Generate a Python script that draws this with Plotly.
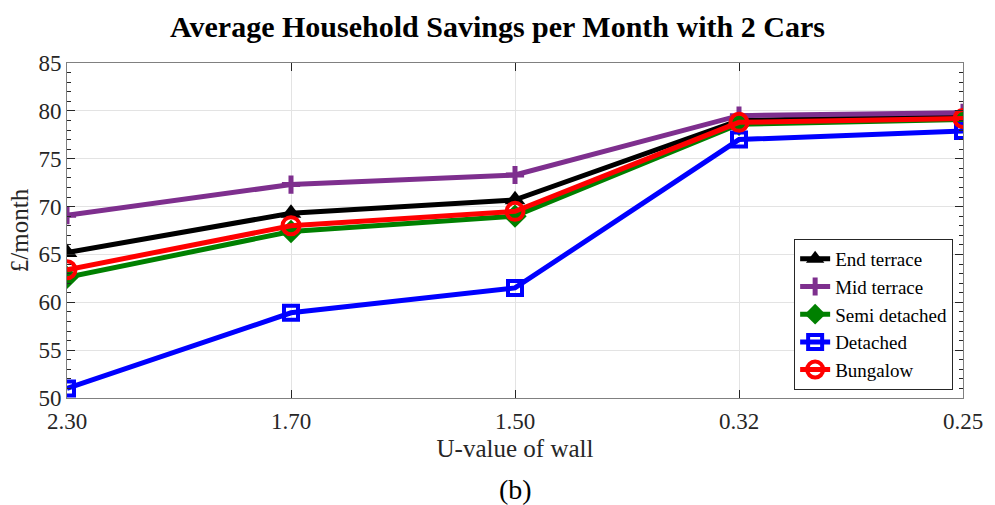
import plotly.graph_objects as go

# U-value of wall categories (W/m²K)
u_values = ["2.30", "1.70", "1.50", "0.32", "0.25"]

# Average household savings per month (£) by house type
end_terrace = [65.2, 69.3, 70.7, 79.0, 79.5]
mid_terrace = [69.1, 72.3, 73.3, 79.5, 79.8]
semi_detached = [62.6, 67.4, 69.0, 78.6, 79.1]
detached = [51.0, 58.9, 61.5, 77.0, 77.9]
bungalow = [63.4, 68.0, 69.5, 78.8, 79.2]

y_ticks = [50, 55, 60, 65, 70, 75, 80, 85]

FONT = "Liberation Serif, Times New Roman, serif"
TXT = "#262626"

series = [
    ("End terrace", end_terrace, "black", dict(symbol="triangle-up", size=18)),
    ("Mid terrace", mid_terrace, "#7E2F8E", dict(symbol="cross-thin", size=13,
                                                  line=dict(width=5, color="#7E2F8E"))),
    ("Semi detached", semi_detached, "#008000", dict(symbol="diamond", size=18)),
    ("Detached", detached, "#0000FF", dict(symbol="square-open", size=14,
                                             line=dict(width=4, color="#0000FF"))),
    ("Bungalow", bungalow, "#FF0000", dict(symbol="circle-open", size=17,
                                            line=dict(width=4, color="#FF0000"))),
]

fig = go.Figure()
for name, vals, color, marker in series:
    m = dict(color=color)
    m.update(marker)
    fig.add_trace(go.Scatter(
        x=u_values, y=vals, name=name, mode="lines+markers",
        line=dict(color=color, width=5), marker=m,
    ))

axis_line = "#808080"
fig.update_layout(
    width=995, height=505,
    margin=dict(l=67, r=27, t=63, b=107),
    paper_bgcolor="white", plot_bgcolor="white",
    font=dict(family=FONT, color=TXT, size=23),
    title=dict(text="<b>Average Household Savings per Month with 2 Cars</b>",
               x=0.5, xanchor="center", y=0.947, yanchor="middle",
               font=dict(family=FONT, size=30, color="black")),
    xaxis=dict(
        type="category", range=[0, 4],
        showgrid=True, gridcolor="#E3E3E3", gridwidth=1,
        showline=True, linecolor=axis_line, linewidth=1, mirror="ticks",
        ticks="inside", ticklen=8, tickcolor=TXT,
        tickfont=dict(family=FONT, size=23, color=TXT),
        ticklabelstandoff=2,
        title=dict(text="U-value of wall", standoff=6,
                   font=dict(family=FONT, size=25, color=TXT)),
        zeroline=False,
    ),
    yaxis=dict(
        range=[50, 85], tickvals=y_ticks,
        showgrid=True, gridcolor="#E3E3E3", gridwidth=1,
        showline=True, linecolor=axis_line, linewidth=1, mirror="ticks",
        ticks="inside", ticklen=8, tickcolor=TXT,
        minor=dict(dtick=1, ticks="inside", ticklen=4, tickcolor=TXT,
                   showgrid=False),
        tickfont=dict(family=FONT, size=23, color=TXT),
        title=dict(text="£/month", standoff=2,
                   font=dict(family=FONT, size=25, color=TXT)),
        zeroline=False,
    ),
    legend=dict(
        x=0.989, y=0.024, xanchor="right", yanchor="bottom",
        bgcolor="white", bordercolor=TXT, borderwidth=1,
        font=dict(family=FONT, size=19, color="black"),
        tracegroupgap=0, itemwidth=30,
    ),
    showlegend=True,
)

fig.add_annotation(text="(b)", xref="paper", yref="paper",
                   x=0.5, y=-0.272, xanchor="center", yanchor="middle",
                   showarrow=False, font=dict(family=FONT, size=28, color="black"))

fig.write_html("out.html")
